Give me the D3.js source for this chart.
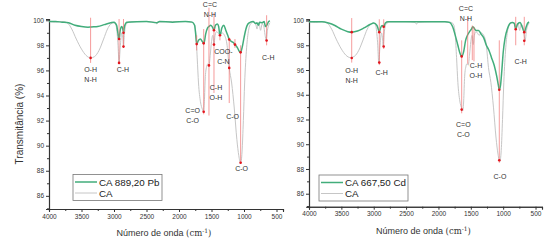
<!DOCTYPE html>
<html>
<head>
<meta charset="utf-8">
<script src="https://cdn.jsdelivr.net/npm/d3@7"></script>
<style>
  body { margin: 0; background: #fff; }
  svg { display: block; font-family: Arial, "Liberation Sans", sans-serif; }
</style>
</head>
<body>
<div id="chart"></div>
<script>
// --- data (wavenumber cm-1, transmittance %) ---
const caWn  = [4000,3900,3800,3720,3650,3580,3500,3430,3360,3300,3230,3160,3100,3050,3000,2970,2940,2922,2905,2880,2865,2854,2840,2810,2750,2500,2360,2340,2320,2100,1900,1800,1760,1740,1720,1700,1670,1640,1625,1610,1595,1575,1560,1539,1520,1500,1480,1462,1445,1420,1400,1370,1340,1300,1260,1227,1190,1150,1110,1080,1052,1030,1010,990,960,930,900,860,820,800,785,770,745,720,700,675,660,640,620,600];
const caVal = [99.9,99.85,99.9,99.8,99.3,98.5,97.7,97.2,97.0,97.1,97.6,98.5,99.3,99.7,99.8,99.6,98.2,96.6,97.8,99.0,98.6,97.9,98.9,99.7,99.9,99.9,99.85,99.7,99.85,99.9,99.9,99.85,99.6,98.8,97.0,95.0,93.5,92.9,92.7,93.5,95.5,96.3,96.5,96.4,97.2,98.3,98.8,98.06,98.8,99.1,99.0,98.8,99.0,98.8,98.0,96.2,95.0,93.0,90.5,89.2,88.6,89.5,92.0,95.0,97.8,99.2,99.7,99.85,99.7,99.3,99.6,99.8,99.2,99.7,99.6,98.8,98.4,99.2,99.6,99.8];

const pbWn  = [4000,3900,3800,3700,3600,3500,3400,3350,3250,3150,3050,3000,2960,2940,2922,2905,2880,2865,2854,2840,2800,2500,2340,2300,2100,1900,1800,1760,1745,1728,1700,1670,1640,1616,1590,1560,1539,1510,1480,1462,1440,1410,1390,1370,1340,1310,1280,1250,1227,1190,1160,1139,1100,1070,1052,1030,1000,970,940,900,860,820,800,780,760,720,690,670,650,620,600];
const pbVal = [99.9,99.9,99.85,99.8,99.6,99.5,99.45,99.47,99.5,99.65,99.8,99.85,99.6,99.0,98.5,99.2,99.5,99.3,99.0,99.5,99.85,99.9,99.8,99.9,99.85,99.9,99.85,99.6,99.0,98.1,98.4,98.5,98.3,98.16,98.9,99.4,99.5,99.6,99.4,99.2,99.6,99.7,99.5,98.8,99.4,99.6,99.2,98.8,98.46,98.3,98.2,98.06,97.8,97.5,97.44,97.8,98.6,99.3,99.7,99.85,99.9,99.75,99.8,99.6,99.85,99.8,99.9,99.5,99.6,99.9,99.95];

const cdWn  = [4000,3800,3700,3600,3500,3400,3340,3250,3150,3050,3000,2950,2930,2914,2895,2870,2846,2820,2780,2300,1900,1830,1780,1740,1700,1670,1641,1610,1580,1548,1520,1490,1470,1450,1420,1380,1340,1300,1260,1220,1180,1140,1100,1075,1060,1040,1020,1000,970,930,890,860,830,806,780,740,700,674,650,620,600];
const cdVal = [99.9,99.9,99.8,99.6,99.3,99.1,99.06,99.15,99.4,99.7,99.8,99.6,99.3,99.06,99.4,99.6,99.5,99.8,99.9,99.9,99.9,99.85,99.5,98.8,98.0,97.4,97.1,97.5,98.4,98.85,99.1,99.3,99.5,99.4,99.2,99.2,98.9,98.6,98.0,97.6,97.0,96.4,95.5,94.8,94.4,94.8,96.0,97.4,98.6,99.4,99.8,99.85,99.8,99.3,99.7,99.85,99.4,99.06,99.4,99.8,99.9];

// red marker lines: wavenumber, line top / bottom (%), dots (%)
const pbMarkWn  = [3360, 2922, 2854, 1728, 1620, 1539, 1462, 1370, 1227, 1139, 1052, 652];
const pbMarkTop = [100.2, 100.1, 100.1, 98.8, 99.3, 101.0, 100.6, 98.8, 98.6, 98.5, 98.0, 100.4];
const pbMarkBot = [96.6, 96.5, 97.8, 97.6, 92.5, 92.4, 94.2, 98.4, 93.4, 97.8, 88.6, 98.0];
const pbDots    = [[97.0], [98.5, 96.6], [99.0, 97.9], [98.1], [98.16, 92.7], [96.4], [99.2, 98.06], [98.8], [98.46, 96.2], [98.06], [97.44, 88.64], [98.38]];

const cdMarkWn  = [3340, 2914, 2846, 1641, 1548, 1477, 1451, 1060, 806, 674];
const cdMarkTop = [100.2, 100.1, 100.1, 98.4, 100.3, 99.6, 99.5, 98.4, 100.3, 100.3];
const cdMarkBot = [96.6, 96.4, 97.7, 92.5, 96.5, 96.8, 96.7, 88.5, 98.0, 98.0];
const cdDots    = [[99.06, 96.97], [99.06, 96.6], [99.5, 97.9], [97.1, 92.8], [], [], [], [94.4, 88.7], [99.3], [99.06, 98.36]];

// peak labels: text lines, wavenumber, transmittance of first line
const pbLabels = [
  {t: ["O-H", "N-H"], wn: 3360, v: 96.06},
  {t: ["C-H"], wn: 2862, v: 96.1},
  {t: ["C=O", "C-O"], wn: 1790, v: 92.8},
  {t: ["C=C", "N-H"], wn: 1524, v: 101.25},
  {t: ["C-H", "O-H"], wn: 1431, v: 94.6},
  {t: ["COO-", "C-N"], wn: 1316, v: 97.5},
  {t: ["C-O"], wn: 1175, v: 92.3},
  {t: ["C-O"], wn: 1036, v: 88.2},
  {t: ["C-H"], wn: 627, v: 97.0}
];
const cdLabels = [
  {t: ["O-H", "N-H"], wn: 3340, v: 95.94},
  {t: ["C-H"], wn: 2877, v: 95.8},
  {t: ["C=O", "C-O"], wn: 1616, v: 91.6},
  {t: ["C=C", "N-H"], wn: 1575, v: 101.0},
  {t: ["C-H", "O-H"], wn: 1420, v: 96.35},
  {t: ["C-O"], wn: 1049, v: 87.4},
  {t: ["C-H"], wn: 729, v: 96.7}
];

const xTicks = [4000, 3500, 3000, 2500, 2000, 1500, 1000, 500];
const yTicks = [86, 88, 90, 92, 94, 96, 98, 100];

const W = 550, H = 244;
const GREEN = "#42ad7b", GRAY = "#c6c6c6";

const svg = d3.select("#chart").append("svg")
  .attr("width", W).attr("height", H);

function drawPanel(p) {
  const x = d3.scaleLinear().domain([4000, 400]).range([p.x0, p.x1]);
  const y = d3.scaleLinear().domain([84.95, 100.1]).range([p.y0, p.y1]);
  const g = svg.append("g");

  // axes
  g.append("g").attr("transform", `translate(0,${p.y0})`)
    .call(d3.axisBottom(x).tickValues(xTicks).tickSize(3).tickPadding(2).tickFormat(d3.format("d")));
  g.append("g").attr("transform", `translate(0,${p.y0})`)
    .call(d3.axisBottom(x).tickValues(d3.range(3750, 400, -500)).tickSize(2).tickFormat(""));
  g.append("g").attr("transform", `translate(${p.x0},0)`)
    .call(d3.axisLeft(y).tickValues(yTicks).tickSize(3).tickPadding(2));
  g.append("g").attr("transform", `translate(${p.x0},0)`)
    .call(d3.axisLeft(y).tickValues(d3.range(85, 100, 2)).tickSize(2).tickFormat(""));
  g.selectAll(".domain").attr("stroke", "#333").attr("stroke-width", 1.1);
  g.selectAll(".tick line").attr("stroke", "#333");
  g.selectAll(".tick text").attr("font-size", 6.5).attr("fill", "#333")
    .attr("font-family", "Arial, 'Liberation Sans', sans-serif");

  const line = d3.line().x(d => x(d[0])).y(d => y(d[1])).curve(d3.curveMonotoneX);

  // CA reference spectrum
  g.append("path").datum(d3.zip(caWn, caVal)).attr("d", line)
    .attr("fill", "none").attr("stroke", GRAY).attr("stroke-width", 1);
  // sample spectrum
  g.append("path").datum(d3.zip(p.wn, p.val)).attr("d", line)
    .attr("fill", "none").attr("stroke", GREEN).attr("stroke-width", 1.5);

  // red marker lines and dots
  p.markWn.forEach((w, i) => {
    g.append("line")
      .attr("x1", x(w)).attr("x2", x(w))
      .attr("y1", y(p.markTop[i])).attr("y2", y(p.markBot[i]))
      .attr("stroke", "#f07070").attr("stroke-width", 0.7);
    p.dots[i].forEach(v => {
      g.append("circle").attr("cx", x(w)).attr("cy", y(v)).attr("r", 1.3)
        .attr("fill", "#e3141c");
    });
  });

  // peak labels
  p.labels.forEach(l => {
    l.t.forEach((s, k) => {
      g.append("text").attr("x", x(l.wn)).attr("y", y(l.v) + k * 10 + 2.5)
        .attr("text-anchor", "middle").attr("font-size", 7).attr("fill", "#333")
        .text(s);
    });
  });

  // axis titles
  g.append("text")
    .attr("transform", `translate(${p.x0 - 26},${(p.y0 + p.y1) / 2 + 10}) rotate(-90)`)
    .attr("text-anchor", "middle").attr("font-size", 10).attr("fill", "#333")
    .text(p.yTitle);
  const xt = g.append("text").attr("x", (p.x0 + p.x1) / 2 - 2).attr("y", p.y0 + 27)
    .attr("text-anchor", "middle").attr("font-size", 9).attr("fill", "#333");
  xt.append("tspan").text("Número de onda  ");
  xt.append("tspan").attr("font-family", "'DejaVu Serif', 'Liberation Serif', serif").attr("font-size", 8.5).text("(cm");
  xt.append("tspan").attr("font-family", "'DejaVu Serif', 'Liberation Serif', serif").attr("font-size", 6).attr("dy", -3).text("-1");
  xt.append("tspan").attr("font-family", "'DejaVu Serif', 'Liberation Serif', serif").attr("font-size", 8.5).attr("dy", 3).text(")");

  // legend
  const lg = g.append("g").attr("transform", `translate(${p.lx},${p.ly})`);
  lg.append("rect").attr("width", 89).attr("height", 26)
    .attr("fill", "#fff").attr("stroke", "#777").attr("stroke-width", 0.8);
  lg.append("line").attr("x1", 2).attr("x2", 24).attr("y1", 7.5).attr("y2", 7.5)
    .attr("stroke", GREEN).attr("stroke-width", 1.5);
  lg.append("line").attr("x1", 2).attr("x2", 24).attr("y1", 18.5).attr("y2", 18.5)
    .attr("stroke", GRAY).attr("stroke-width", 1);
  lg.append("text").attr("x", 26).attr("y", 11).attr("font-size", 9.8).attr("fill", "#222").text(p.name);
  lg.append("text").attr("x", 26).attr("y", 22).attr("font-size", 9.8).attr("fill", "#222").text("CA");
}

drawPanel({x0: 49, x1: 283, y0: 209, y1: 19, wn: pbWn, val: pbVal,
  markWn: pbMarkWn, markTop: pbMarkTop, markBot: pbMarkBot, dots: pbDots, labels: pbLabels,
  name: "CA 889,20 Pb", lx: 73, ly: 174.5, yTitle: "Transmitância (%)"});
drawPanel({x0: 309, x1: 542, y0: 206.7, y1: 19.3, wn: cdWn, val: cdVal,
  markWn: cdMarkWn, markTop: cdMarkTop, markBot: cdMarkBot, dots: cdDots, labels: cdLabels,
  name: "CA 667,50 Cd", lx: 319, ly: 175, yTitle: ""});
</script>
</body>
</html>
